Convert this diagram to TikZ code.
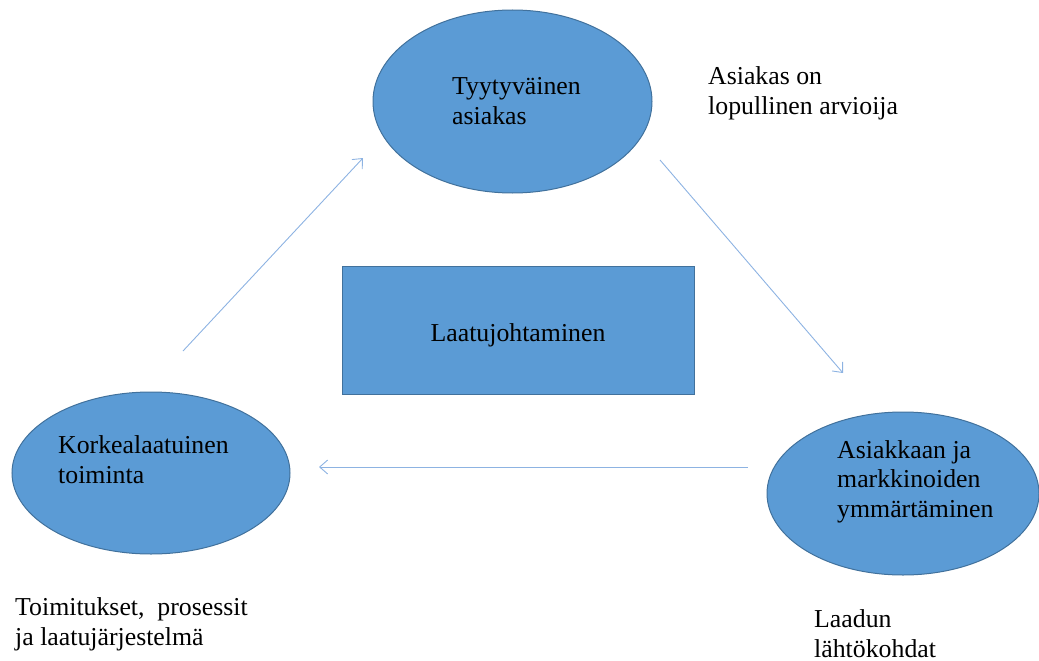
\documentclass[tikz,border=0pt]{standalone}
\usepackage{fontspec}
\setmainfont{Liberation Serif}
\usetikzlibrary{arrows.meta,shapes.geometric}
\definecolor{shapefill}{HTML}{5B9BD5}
\definecolor{shapeline}{HTML}{41719C}
\definecolor{arrowcol}{HTML}{8DB3E2}
\tikzset{
  x=1pt, y=-1pt,
  blob/.style={ellipse, fill=shapefill, draw=shapeline, line width=1pt, inner sep=0pt},
  box/.style={rectangle, fill=shapefill, draw=shapeline, line width=1pt, inner sep=0pt},
  txt/.style={font=\fontsize{25.8}{29.5}\selectfont, align=left, anchor=base west, inner sep=0pt, text=black},
  conn/.style={draw=arrowcol, line width=0.9pt, -{Straight Barb[length=8pt,width=14pt,line width=0.9pt]}}
}
\begin{document}
\begin{tikzpicture}
\useasboundingbox (0,0) rectangle (1039,661);
% shapes
\node[blob, minimum width=279pt, minimum height=183pt] (top) at (512.5,101.5) {};
\node[blob, minimum width=272pt, minimum height=163pt] (right) at (903,493.5) {};
\node[blob, minimum width=278pt, minimum height=162pt] (left) at (151,473) {};
\node[box, minimum width=352pt, minimum height=128pt] (center) at (518,330) {};
% texts (anchor = baseline of the last line)
\node[txt] (ttop) at (452,124) {Tyytyväinen\\asiakas};
\node[txt] (tright) at (837,517) {Asiakkaan ja\\markkinoiden\\ymmärtäminen};
\node[txt] (tleft) at (58,483) {Korkealaatuinen\\toiminta};
\node[txt, anchor=base] (tcenter) at (center.center |- 0,341) {Laatujohtaminen};
\node[txt] (n1) at (708,114) {Asiakas on\\lopullinen arvioija};
\node[txt] (n2) at (15,645) {Toimitukset,\ \ prosessit\\ja laatujärjestelmä};
\node[txt] (n3) at (814,657) {Laadun\\lähtökohdat};
% connector ends
\coordinate (a1s) at (183,351);
\coordinate (a1e) at (363,158);
\coordinate (a2s) at (660,160);
\coordinate (a2e) at (843,373);
\coordinate (a3s) at (748,467);
\coordinate (a3e) at (319,467);
\draw[conn] (a1s) -- (a1e);
\draw[conn] (a2s) -- (a2e);
\draw[conn] (a3s) -- (a3e);
\end{tikzpicture}
\end{document}
